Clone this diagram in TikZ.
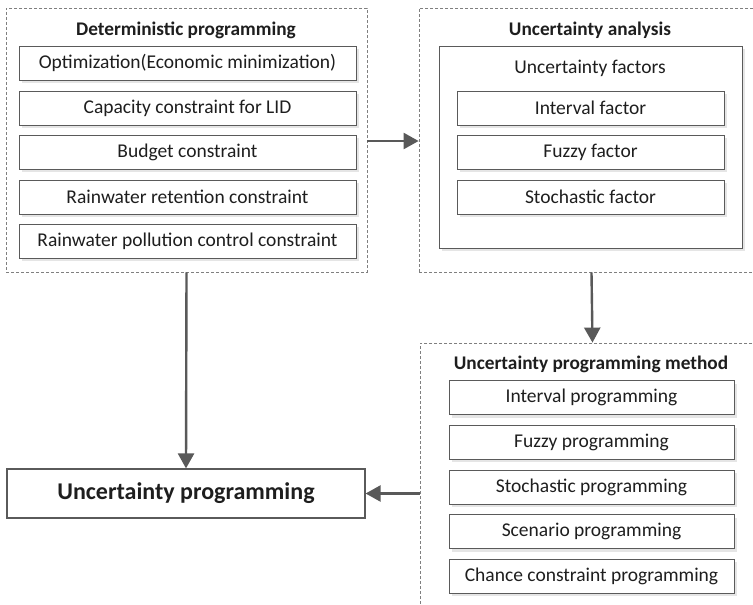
\documentclass[tikz,border=0pt]{standalone}
\usepackage{fontspec}
\setmainfont{Carlito}
\usetikzlibrary{arrows.meta,shadows}
\definecolor{dashc}{HTML}{7F7F7F}
\definecolor{boxc}{HTML}{5A5A5A}
\definecolor{arrc}{HTML}{595959}
\definecolor{txtc}{HTML}{1E1E1E}
\begin{document}
\begin{tikzpicture}[x=1pt,y=-1pt,
  container/.style={draw=dashc, line width=0.8pt, rectangle, inner sep=0pt, dash pattern=on 3pt off 2pt},
  ibox/.style={draw=boxc, fill=white, line width=0.9pt, rectangle, inner sep=0pt, text=txtc,
     font=\fontsize{19.5}{22}\selectfont,
     drop shadow={shadow xshift=3pt, shadow yshift=-3pt, fill=black!10, opacity=1}},
  title/.style={font=\fontsize{19.3}{22}\selectfont\bfseries, text=txtc, inner sep=0pt},
  plain/.style={font=\fontsize{19.5}{22}\selectfont, text=txtc, inner sep=0pt},
  arr/.style={draw=arrc, line width=2.4pt, -{Triangle[length=15pt,width=16pt]}}]
\useasboundingbox (0,0) rectangle (753,605);
\fill[white] (0,0) rectangle (753,605);
\begin{scope}
\clip (0,0) rectangle (753,605);
% containers
\node[container, minimum width=361pt, minimum height=264pt] (det) at (186.5,140) {};
\node[container, minimum width=345pt, minimum height=264pt] (ua) at (591.5,140) {};
\node[container, minimum width=345pt, minimum height=267pt] (upm) at (592.5,476.5) {};
\end{scope}
% deterministic programming
\node[title] (dett) at (186,30) {Deterministic programming};
\node[ibox, minimum width=337pt, minimum height=34pt] (d1) at (187.5,63) {Optimization(Economic minimization)};
\node[ibox, minimum width=337pt, minimum height=34pt] (d2) at (187.5,108) {Capacity constraint for LID};
\node[ibox, minimum width=337pt, minimum height=34pt] (d3) at (187.5,152) {Budget constraint};
\node[ibox, minimum width=337pt, minimum height=34pt] (d4) at (187.5,197) {Rainwater retention constraint};
\node[ibox, minimum width=337pt, minimum height=34pt] (d5) at (187.5,241) {Rainwater pollution control constraint};
% uncertainty analysis
\node[title] (uat) at (590,30) {Uncertainty analysis};
\node[ibox, minimum width=303pt, minimum height=202pt] (uf) at (590.5,147) {};
\node[plain] (uft) at (590,68) {Uncertainty factors};
\node[ibox, minimum width=267pt, minimum height=34pt] (f1) at (590.5,108) {Interval factor};
\node[ibox, minimum width=267pt, minimum height=34pt] (f2) at (590.5,152) {Fuzzy factor};
\node[ibox, minimum width=267pt, minimum height=34pt] (f3) at (590.5,197) {Stochastic factor};
% uncertainty programming method
\node[title] (upmt) at (591,364) {Uncertainty programming method};
\node[ibox, minimum width=285pt, minimum height=34pt] (m1) at (591.5,397.5) {Interval programming};
\node[ibox, minimum width=285pt, minimum height=34pt] (m2) at (591.5,442) {Fuzzy programming};
\node[ibox, minimum width=285pt, minimum height=34pt] (m3) at (591.5,487) {Stochastic programming};
\node[ibox, minimum width=285pt, minimum height=34pt] (m4) at (591.5,531.5) {Scenario programming};
\node[ibox, minimum width=285pt, minimum height=34pt] (m5) at (591.5,576) {Chance constraint programming};
% result
\node[draw=boxc, line width=1.2pt, fill=white, minimum width=358pt, minimum height=49pt, inner sep=0pt, text=txtc,
  font=\fontsize{24}{28}\selectfont\bfseries] (up) at (186,493.5) {Uncertainty programming};
% connectors
\draw[arr] (det.east |- 0,141) -- (ua.west |- 0,141);
\draw[arr] (ua.south) -- (upm.north);
\draw[arr] (det.south) -- (up.north);
\draw[arr] (upm.west |- up.east) -- (up.east);
\end{tikzpicture}
\end{document}
